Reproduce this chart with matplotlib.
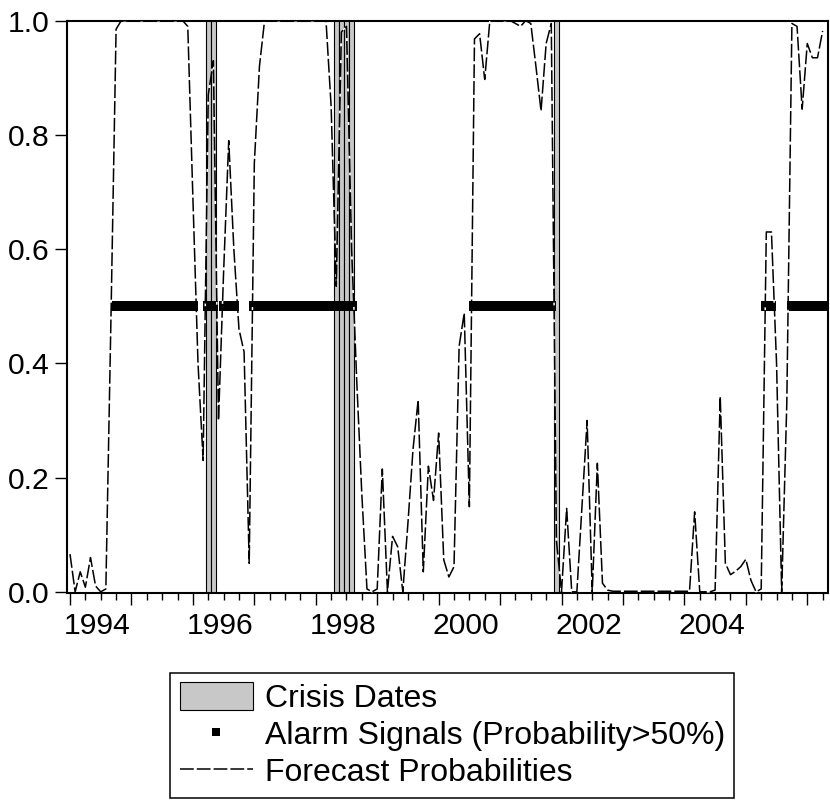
import numpy as np
import matplotlib.pyplot as plt
from matplotlib.transforms import blended_transform_factory, ScaledTranslation

plt.rcParams['font.family'] = ['Liberation Sans', 'DejaVu Sans']

# monthly forecast probabilities, 1994M01 .. 2006M04
start_year = 1994
prob = [
    0.066, 0.0, 0.035, 0.008, 0.06, 0.01, 0.0, 0.005, 0.48, 0.985,          # 1994
    1.0, 1.0, 1.0, 1.0, 1.0, 1.0, 1.0, 1.0, 1.0, 1.0, 1.0, 1.0, 1.0, 0.99,  # -1995
    0.69, 0.40, 0.23, 0.87, 0.93, 0.30, 0.56, 0.79, 0.60, 0.46, 0.42, 0.05,  # 1996
    0.75, 0.92, 1.0, 1.0, 1.0, 1.0, 1.0, 1.0, 1.0, 1.0, 1.0, 1.0,           # 1997
    1.0, 1.0, 1.0, 0.85, 0.535, 0.98, 0.99, 0.60, 0.37, 0.17, 0.005, 0.0,   # 1998
    0.005, 0.215, 0.0, 0.097, 0.079, 0.0, 0.12, 0.25, 0.336, 0.035, 0.22, 0.16,  # 1999
    0.278, 0.056, 0.026, 0.044, 0.43, 0.488, 0.149, 0.968, 0.977, 0.897, 1.0, 1.0,  # 2000
    1.0, 1.0, 1.0, 0.995, 0.99, 1.0, 0.995, 0.92, 0.842, 0.96, 0.995, 0.09,  # 2001
    0.0, 0.146, 0.0, 0.0, 0.15, 0.30, 0.0, 0.225, 0.015, 0.003, 0.001, 0.001,  # 2002
    0.001, 0.001, 0.001, 0.001, 0.001, 0.001, 0.001, 0.001, 0.001, 0.001, 0.001, 0.001,  # 2003
    0.001, 0.001, 0.14, 0.0, 0.0, 0.0, 0.003, 0.342, 0.05, 0.03, 0.036, 0.044,  # 2004
    0.057, 0.02, 0.0, 0.005, 0.63, 0.63, 0.40, 0.0, 0.33, 0.995, 0.99, 0.845,  # 2005
    0.96, 0.935, 0.935, 0.982,                                               # 2006
]
crisis_dates = ['1996-04', '1996-05', '1998-05', '1998-06', '1998-07', '1998-08', '2001-12']
year_labels = ['1994', '1996', '1998', '2000', '2002', '2004']

prob = np.array(prob)
n = len(prob)
t = np.arange(n)
alarm = prob > 0.5
crisis_idx = [(int(d[:4]) - start_year) * 12 + int(d[5:]) - 1 for d in crisis_dates]

fig = plt.figure(figsize=(8.3, 8.0), dpi=100)
ax = fig.add_axes([0.0804, 0.2588, 0.9172, 0.7154])

# shaded crisis months
bars = ax.bar(crisis_idx, 1.02, width=1.0, bottom=-0.01, color='#c8c8c8',
              edgecolor='black', linewidth=0.8, label='Crisis Dates', zorder=1)
# alarm signals at 0.5
marks, = ax.plot(t[alarm], np.full(alarm.sum(), 0.5), 's', color='black', ms=7, mew=0,
                 label='Alarm Signals (Probability>50%)', zorder=2)
# forecast probabilities
line, = ax.plot(t, prob, color='black', lw=1.1, linestyle=(0, (9, 2)), gapcolor='white',
                label='Forecast Probabilities', zorder=3)

ax.set_xlim(-0.64, 148.05)
ax.set_ylim(-0.002, 1.0)

for s in ax.spines.values():
    s.set_linewidth(1.5)

ax.set_yticks(np.arange(0, 1.01, 0.2))
ax.set_yticklabels([f'{v:.1f}' for v in np.arange(0, 1.01, 0.2)], fontsize=21.7)
ax.tick_params(axis='y', length=8.6, width=1.0, pad=4)

ax.set_xticks(np.arange(0, n, 12))
ax.set_xticks(np.arange(0, n, 3), minor=True)
ax.set_xticklabels([])
ax.tick_params(axis='x', which='major', length=8.6, width=1.0)
ax.tick_params(axis='x', which='minor', length=5, width=1.0)

# year labels sit a bit right of the year tick
trans = blended_transform_factory(ax.transData, ax.transAxes) + \
    ScaledTranslation(0, -0.19, fig.dpi_scale_trans)
for lab in year_labels:
    m = (int(lab) - start_year) * 12 + 5.3
    ax.text(m, 0, lab, transform=trans, ha='center', va='top', fontsize=21.7)

leg = ax.legend([bars, marks, line],
                ['Crisis Dates', 'Alarm Signals (Probability>50%)', 'Forecast Probabilities'],
                loc='upper center', bbox_to_anchor=(0.545, 0.159),
                bbox_transform=fig.transFigure, fontsize=23, frameon=True,
                fancybox=False, edgecolor='black', framealpha=1,
                handlelength=2.28, handleheight=0.94, handletextpad=0.375,
                borderpad=0.3, labelspacing=0.17, markerscale=0.85,
                borderaxespad=0)
leg.get_frame().set_linewidth(1.1)

fig.savefig('out.png', dpi=100)
